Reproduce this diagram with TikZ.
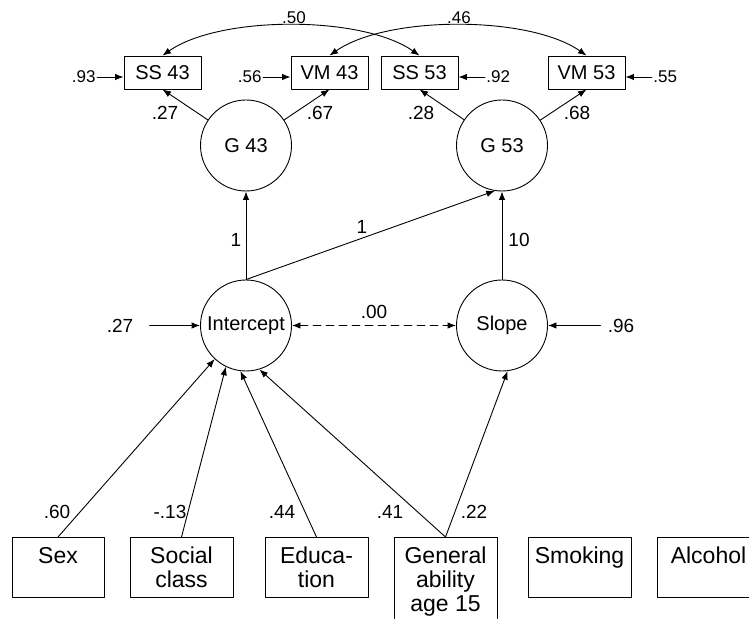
\documentclass[tikz,border=0pt]{standalone}
\usepackage{fontspec}
\setmainfont{Liberation Sans}
\usetikzlibrary{arrows.meta}
\newcommand{\btxt}[3]{\parbox[c][#1][t]{#2}{\centering\rule{0pt}{22pt}#3}}
\begin{document}
\begin{tikzpicture}[x=1pt, y=1pt, line join=round, line cap=round, >={Latex[length=8.5pt,width=6.5pt]}]
	\tikzset{every node/.style={font=\fontsize{20}{24}\selectfont},
		obs/.style={draw, line width=0.9pt, minimum width=77pt, minimum height=33pt, inner sep=0pt},
		lat/.style={draw, circle, line width=0.9pt, minimum size=91pt, inner sep=0pt},
		pred/.style={draw, line width=0.9pt, anchor=north, inner sep=4pt, font=\fontsize{23}{24}\selectfont},
		num/.style={font=\fontsize{19}{22}\selectfont, inner sep=0pt},
		small/.style={font=\fontsize{17}{20}\selectfont, inner sep=1pt},
		every path/.style={line width=0.9pt}}
	\useasboundingbox (0,0) rectangle (749,618);
	\node[obs] (SS43) at (162.5,545.5) {SS 43};
	\node[obs] (VM43) at (329.5,545.5) {VM 43};
	\node[obs] (SS53) at (419.5,545.5) {SS 53};
	\node[obs] (VM53) at (586.5,545.5) {VM 53};
	\node[lat] (G43) at (246,472.5) {G 43};
	\node[lat] (G53) at (502,472.5) {G 53};
	\node[lat] (Int) at (246,292.5) {Intercept};
	\node[lat] (Slp) at (502,292.5) {Slope};
	\node[pred] (Sex) at (58,81) {\btxt{52pt}{84pt}{Sex}};
	\node[pred] (Soc) at (181.5,81) {\btxt{52pt}{95pt}{Social\\class}};
	\node[pred] (Edu) at (316.5,81) {\btxt{52pt}{95pt}{Educa-\\tion}};
	\node[pred] (Gen) at (445.5,81) {\btxt{80pt}{95pt}{General\\ability\\age 15}};
	\node[pred] (Smk) at (579.5,81) {\btxt{52pt}{95pt}{Smoking}};
	\node[pred] (Alc) at (708.5,81) {\btxt{52pt}{95pt}{Alcohol}};
	% residuals
	\node[small, anchor=east] (e1) at (97,541) {.93};
	\node[small, anchor=east] (e2) at (263,541) {.56};
	\node[small, anchor=west] (e3) at (485,541) {.92};
	\node[small, anchor=west] (e4) at (652,541) {.55};
	\draw[->] (e1) -- (e1 -| SS43.west);
	\draw[->] (e2) -- (e2 -| VM43.west);
	\draw[->] (e3) -- (e3 -| SS53.east);
	\draw[->] (e4) -- (e4 -| VM53.east);
	\node[num, inner xsep=16pt] (e5) at (120,292.5) {.27};
	\node[num, inner xsep=7pt] (e6) at (621,292.5) {.96};
	\draw[->] (e5) -- (Int);
	\draw[->] (e6) -- (Slp);
	% loadings
	\draw[->] (G43) -- (SS43.south);
	\draw[->] (G43) -- (VM43.south);
	\draw[->] (G53) -- (SS53.south);
	\draw[->] (G53) -- (VM53.south);
	\node[num] (l1) at (165,505) {.27};
	\node[num] (l2) at (320,505) {.67};
	\node[num] (l3) at (421,505) {.28};
	\node[num] (l4) at (577,505) {.68};
	\draw[<->] (SS43.north) to[out=35, in=145, looseness=0.7] (SS53.north);
	\draw[<->] (VM43.north) to[out=35, in=145, looseness=0.7] (VM53.north);
	\node[small] (c1) at (294,600) {.50};
	\node[small] (c2) at (459,600) {.46};
	% growth
	\draw[->] (Int) -- (G43);
	\draw[->] (Int.north) -- (G53.261);
	\draw[->] (Slp) -- (G53);
	\node[num] (w1) at (236,378) {1};
	\node[num] (w2) at (362,391) {1};
	\node[num] (w3) at (519,378) {10};
	\draw[<->, dash pattern=on 8pt off 5pt] (Int) -- (Slp);
	\node[num] (cv) at (374,306) {.00};
	% predictors
	\draw[->] (Sex.north) -- (Int.227);
	\draw[->] (Soc.north) -- (Int.244);
	\draw[->] (Edu.north) -- (Int.263);
	\draw[->] (Gen.north) -- (Int.287);
	\draw[->] (Gen.north) -- (Slp.277);
	\node[num] (p1) at (57,106) {.60};
	\node[num] (p2) at (170,106) {-.13};
	\node[num] (p3) at (282,106) {.44};
	\node[num] (p4) at (390,106) {.41};
	\node[num] (p5) at (474,106) {.22};
\end{tikzpicture}
\end{document}
